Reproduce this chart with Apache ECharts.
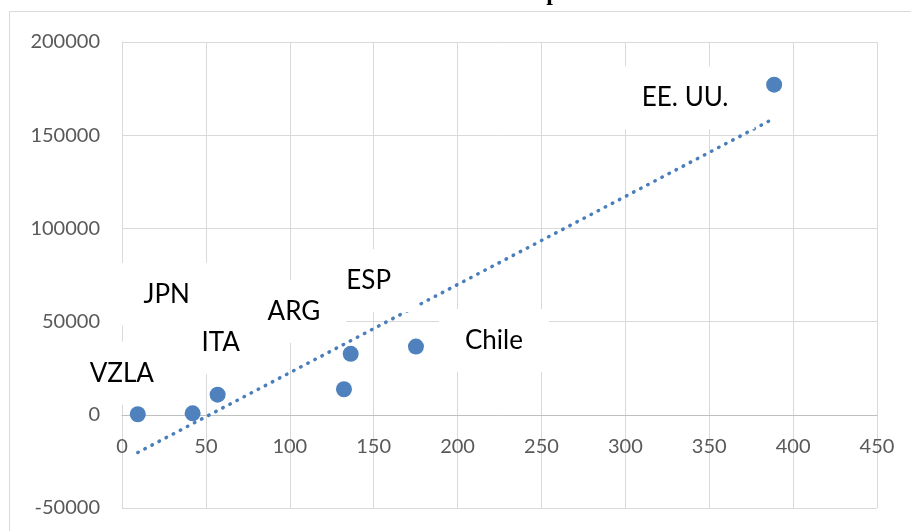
<!DOCTYPE html>
<html>
<head>
<meta charset="utf-8">
<script src="https://cdn.jsdelivr.net/npm/echarts@6/dist/echarts.min.js"></script>
<style>
  html, body { margin: 0; padding: 0; background: #ffffff; }
  #chart { width: 911px; height: 531px; }
</style>
</head>
<body>
<div id="chart"></div>
<script>
// Country labels and their (x, y) values
const countries = ['VZLA', 'JPN', 'ITA', 'ARG', 'ESP', 'Chile', 'EE. UU.'];
const xValues = [9.4, 42.1, 57.0, 132.3, 136.3, 175.2, 388.7];
const yValues = [300, 800, 10800, 13700, 32700, 36600, 177100];

// Axis tick settings
const xTicks = { min: 0, max: 450, interval: 50 };
const yTicks = { min: -50000, max: 200000, interval: 50000 };

// Where each data label sits relative to its marker (pixels)
const labelOffsets = [[-16, -41], [-26, -119], [3, -52], [-50, -78], [18, -73], [78, -6], [-89, 13]];

// Least-squares linear trend through the points
function linearFit(xs, ys) {
  const n = xs.length;
  const mx = xs.reduce((a, b) => a + b, 0) / n;
  const my = ys.reduce((a, b) => a + b, 0) / n;
  let sxy = 0, sxx = 0;
  for (let i = 0; i < n; i++) {
    sxy += (xs[i] - mx) * (ys[i] - my);
    sxx += (xs[i] - mx) * (xs[i] - mx);
  }
  const slope = sxy / sxx;
  return { slope, intercept: my - slope * mx };
}

const fit = linearFit(xValues, yValues);
const xLo = Math.min(...xValues), xHi = Math.max(...xValues);
const trendData = [[xLo, fit.intercept + fit.slope * xLo], [xHi, fit.intercept + fit.slope * xHi]];

const pointData = countries.map((name, i) => ({
  name,
  value: [xValues[i], yValues[i]],
  label: { offset: labelOffsets[i] }
}));

const tickFont = { color: '#595959', fontSize: 20, fontFamily: 'Lato' };
const gridColor = '#d9d9d9';

// Plot area box
const W = 911, H = 531;
const grid = { left: 122, right: 34, top: 42, bottom: 23 };
const plotHeight = H - grid.top - grid.bottom;
// The x axis crosses the y axis at 0: shift it up from the bottom edge
const xAxisShift = -plotHeight * (0 - yTicks.min) / (yTicks.max - yTicks.min);

const chart = echarts.init(document.getElementById('chart'), null, { renderer: 'canvas' });
chart.setOption({
  animation: false,
  backgroundColor: '#ffffff',
  grid: Object.assign({ containLabel: false, outerBoundsMode: 'none' }, grid),
  graphic: [
    {
      type: 'rect',
      shape: { x: 9.5, y: 11.5, width: 1000, height: 1000 },
      style: { fill: 'none', stroke: '#d9d9d9', lineWidth: 1 },
      z: -1
    },
    {
      type: 'text',
      x: 553, y: 6,
      style: {
        text: 'p',
        font: 'bold 24px "Liberation Serif"',
        fill: '#000000',
        align: 'center',
        verticalAlign: 'bottom'
      }
    }
  ],
  xAxis: {
    type: 'value',
    position: 'bottom',
    offset: xAxisShift,
    min: xTicks.min, max: xTicks.max, interval: xTicks.interval,
    axisLine: { show: true, onZero: false, lineStyle: { color: '#bfbfbf', width: 1 } },
    axisTick: { show: false },
    axisLabel: Object.assign({ margin: 22, formatter: v => String(v) }, tickFont),
    splitLine: { show: true, lineStyle: { color: gridColor, width: 1 } }
  },
  yAxis: {
    type: 'value',
    min: yTicks.min, max: yTicks.max, interval: yTicks.interval,
    axisLine: { show: true, onZero: false, lineStyle: { color: gridColor, width: 1 } },
    axisTick: { show: false },
    axisLabel: Object.assign({ margin: 22, formatter: v => String(v) }, tickFont),
    splitLine: { show: true, lineStyle: { color: gridColor, width: 1 } }
  },
  series: [
    {
      type: 'line',
      data: trendData,
      showSymbol: false,
      silent: true,
      z: 2,
      lineStyle: { color: '#4a7ebb', width: 3.5, type: [0.5, 7.5], cap: 'round' }
    },
    {
      type: 'scatter',
      data: pointData,
      symbolSize: 16,
      z: 3,
      itemStyle: { color: '#4f81bd', opacity: 1 },
      label: {
        show: true,
        position: 'inside',
        formatter: p => p.name,
        color: '#000000',
        fontSize: 26,
        fontFamily: 'Lato',
        lineHeight: 25,
        backgroundColor: '#ffffff',
        padding: [19, 26]
      }
    }
  ]
});
</script>
</body>
</html>
